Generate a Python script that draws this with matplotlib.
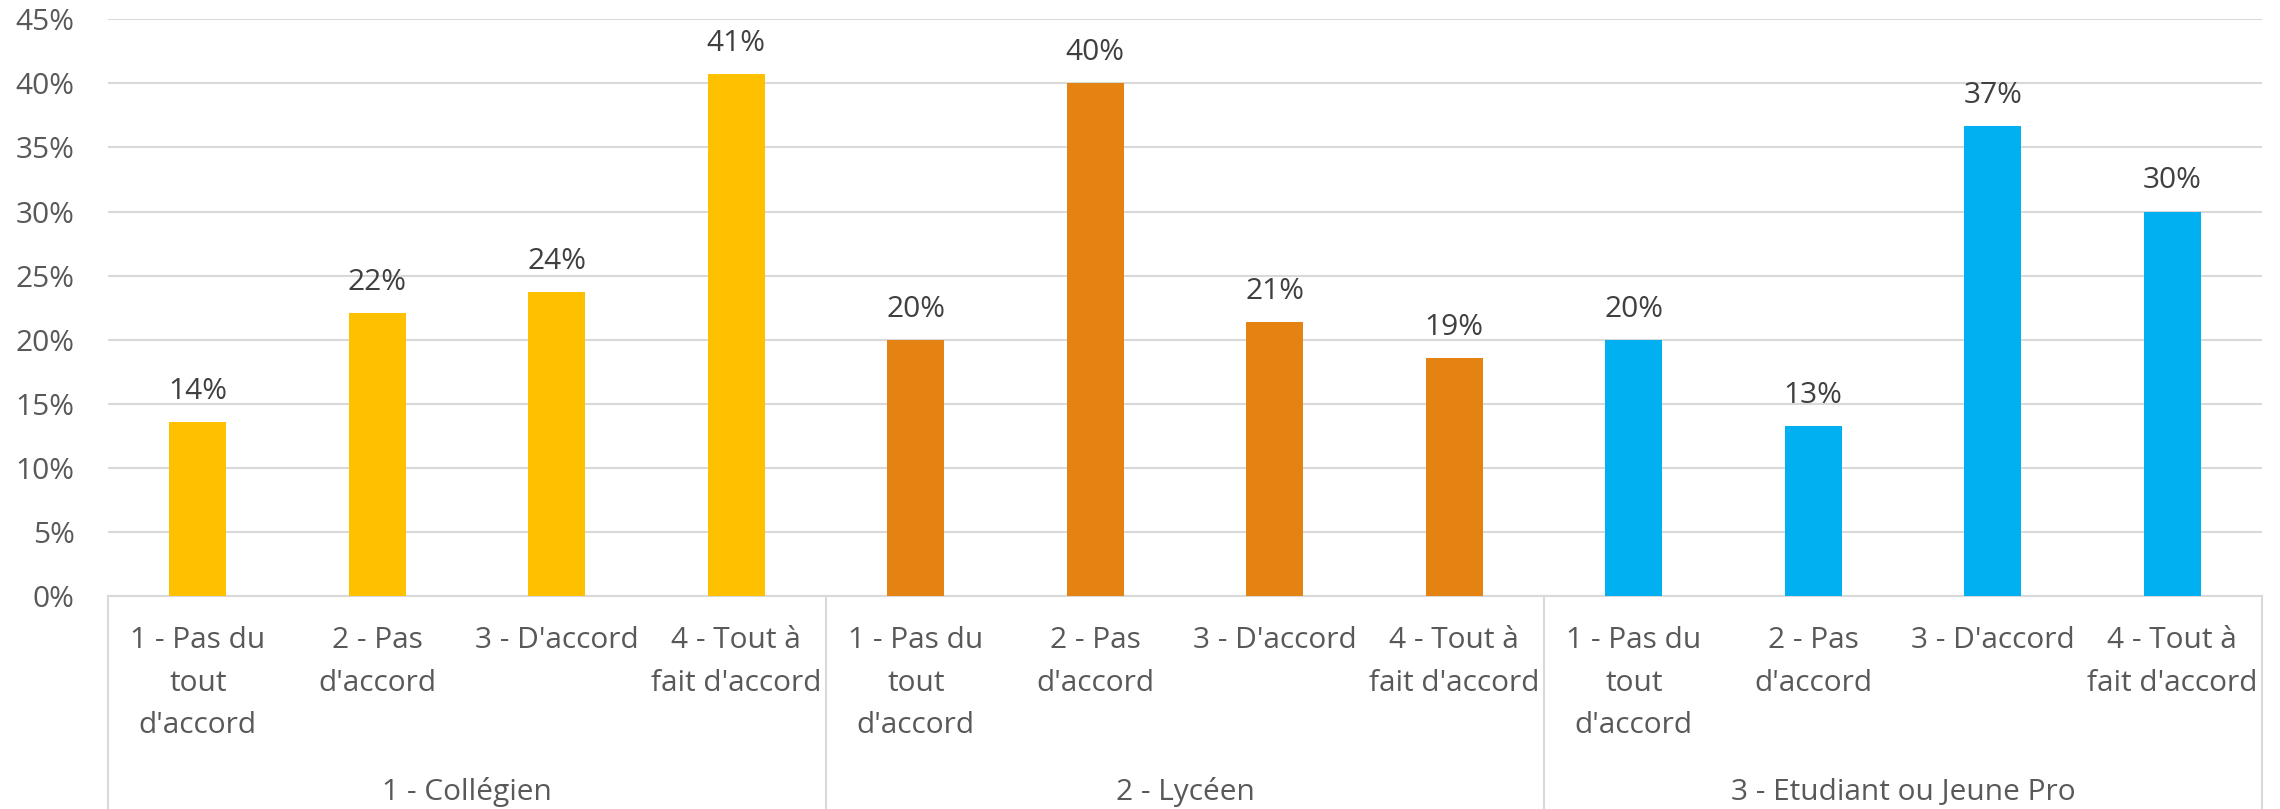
import matplotlib
matplotlib.use("Agg")
import matplotlib.pyplot as plt
from matplotlib.transforms import blended_transform_factory

plt.rcParams["font.family"] = ["Open Sans", "DejaVu Sans"]

GROUPS = ["1 - Collégien", "2 - Lycéen", "3 - Etudiant ou Jeune Pro"]
ANSWERS = ["1 - Pas du\ntout\nd'accord", "2 - Pas\nd'accord", "3 - D'accord",
           "4 - Tout à\nfait d'accord"]
COLLEGIEN = [13.6, 22.1, 23.7, 40.7]
LYCEEN = [20.0, 40.0, 21.4, 18.6]
ETUDIANT = [20.0, 13.3, 36.7, 30.0]
COLORS = ["#FFC000", "#E48312", "#00B0F0"]
YTICKS = [0, 5, 10, 15, 20, 25, 30, 35, 40, 45]

TICK_GRAY, LABEL_GRAY, LINE_GRAY = "#595959", "#404040", "#D9D9D9"
FS = 21.5

fig = plt.figure(figsize=(22.8, 8.09), dpi=100)
ax = fig.add_axes([0.0474, 0.2633, 0.9447, 0.7128])

series = [COLLEGIEN, LYCEEN, ETUDIANT]
xs_all, labels_all = [], []
for g, (vals, col) in enumerate(zip(series, COLORS)):
    xs = [g * len(ANSWERS) + i for i in range(len(vals))]
    ax.bar(xs, vals, width=0.317, color=col, zorder=3)
    for x, v in zip(xs, vals):
        ax.annotate(f"{v:.0f}%", (x, v), xytext=(0, 22), textcoords="offset points",
                    ha="center", va="center", fontsize=FS, color=LABEL_GRAY)
    xs_all += xs
    labels_all += ANSWERS

n = len(xs_all)
ax.set_xlim(-0.5, n - 0.5)
ax.set_ylim(0, 45)
ax.set_yticks(YTICKS)
ax.set_yticklabels([f"{t}%" for t in YTICKS], fontsize=FS, color=TICK_GRAY)
ax.tick_params(axis="y", length=0, pad=24)
ax.grid(axis="y", color=LINE_GRAY, lw=1.5, zorder=0)
ax.set_xticks([])
for s in ("top", "right", "left"):
    ax.spines[s].set_visible(False)
ax.spines["bottom"].set_color(LINE_GRAY)
ax.spines["bottom"].set_linewidth(1.5)

tr = blended_transform_factory(ax.transData, ax.transAxes)
for x, lab in zip(xs_all, labels_all):
    ax.text(x, -0.052, lab, transform=tr, ha="center", va="top", fontsize=FS,
            color=TICK_GRAY, linespacing=1.62)
for g, name in enumerate(GROUPS):
    mid = g * len(ANSWERS) + (len(ANSWERS) - 1) / 2
    ax.text(mid, -0.34, name, transform=tr, ha="center", va="center",
            fontsize=FS, color=TICK_GRAY)
for k in range(len(GROUPS) + 1):
    xb = k * len(ANSWERS) - 0.5
    ax.plot([xb, xb], [0, -0.38], transform=tr, color=LINE_GRAY, lw=1.5,
            clip_on=False)

fig.savefig("out.png", dpi=100)
